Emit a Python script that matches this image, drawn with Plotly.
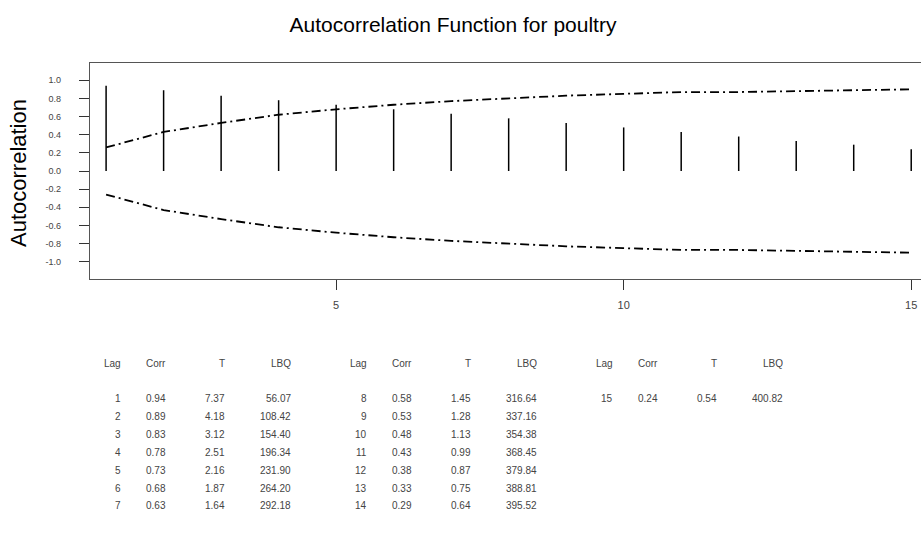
import plotly.graph_objects as go

# ACF results for the poultry series
lags = list(range(1, 16))
corr = [0.94, 0.89, 0.83, 0.78, 0.73, 0.68, 0.63, 0.58, 0.53, 0.48, 0.43, 0.38, 0.33, 0.29, 0.24]
tstat = [7.37, 4.18, 3.12, 2.51, 2.16, 1.87, 1.64, 1.45, 1.28, 1.13, 0.99, 0.87, 0.75, 0.64, 0.54]
lbq = [56.07, 108.42, 154.40, 196.34, 231.90, 264.20, 292.18, 316.64, 337.16, 354.38,
       368.45, 379.84, 388.81, 395.52, 400.82]
# 2*SE significance limits per lag
limit = [0.26, 0.43, 0.53, 0.62, 0.68, 0.73, 0.77, 0.80, 0.83, 0.85, 0.87, 0.87, 0.88, 0.89, 0.90]

ytick_vals = [1.0, 0.8, 0.6, 0.4, 0.2, 0.0, -0.2, -0.4, -0.6, -0.8, -1.0]
ytick_text = ["1.0", "0.8", "0.6", "0.4", "0.2", "0.0", "-0.2", "-0.4", "-0.6", "-0.8", "-1.0"]
xtick_vals = [5, 10, 15]

W, H = 921, 555
ML, MR, MT, MB = 90, 0, 63, 276
PW, PH = W - ML - MR, H - MT - MB

fig = go.Figure()

# vertical spikes for each lag
sx, sy = [], []
for k, r in zip(lags, corr):
    sx += [k, k, None]
    sy += [0, r, None]
fig.add_trace(go.Scatter(x=sx, y=sy, mode="lines",
                         line=dict(color="black", width=1.5),
                         hoverinfo="skip", showlegend=False))

dash = "9px,4px,2px,4px"
fig.add_trace(go.Scatter(x=lags, y=limit, mode="lines",
                         line=dict(color="black", width=1.8, dash=dash),
                         showlegend=False))
fig.add_trace(go.Scatter(x=lags, y=[-v for v in limit], mode="lines",
                         line=dict(color="black", width=1.8, dash=dash),
                         showlegend=False))

ann = []

def px_x(p):
    return (p - ML) / PW

def px_y(p):
    return (H - MB - p) / PH

# y-axis title
ann.append(dict(text="Autocorrelation", xref="paper", yref="paper",
                x=px_x(18), y=px_y(173), textangle=-90, showarrow=False,
                xanchor="center", yanchor="middle",
                font=dict(size=22, color="black", family="Liberation Sans, Arial")))

# statistics table, three blocks of seven lags
col_right = [123, 168, 227, 293]
block_step = 246
header_y = 363
row_y0, row_step = 398, 18
tfont = dict(size=10, color="#444", family="Liberation Sans, Arial")
headers = ["Lag", "Corr", "T", "LBQ"]
for b in range(3):
    for c, h in enumerate(headers):
        ann.append(dict(text=h, xref="paper", yref="paper",
                        x=px_x(col_right[c] + b * block_step), y=px_y(header_y),
                        xanchor="right", yanchor="middle", showarrow=False, font=tfont))
for i, k in enumerate(lags):
    b, row = divmod(i, 7)
    vals = [f"{k}", f"{corr[i]:.2f}", f"{tstat[i]:.2f}", f"{lbq[i]:.2f}"]
    for c, v in enumerate(vals):
        ann.append(dict(text=v, xref="paper", yref="paper",
                        x=px_x(col_right[c] + b * block_step),
                        y=px_y(row_y0 + row * row_step),
                        xanchor="right", yanchor="middle", showarrow=False, font=tfont))

fig.update_layout(
    width=W, height=H,
    margin=dict(l=ML, r=MR, t=MT, b=MB),
    paper_bgcolor="white", plot_bgcolor="white",
    title=dict(text="Autocorrelation Function for poultry",
               xref="container", yref="container", x=453 / W, y=1 - 25 / H,
               xanchor="center", yanchor="middle",
               font=dict(size=21, color="black", family="Liberation Sans, Arial")),
    annotations=ann,
    font=dict(family="Liberation Sans, Arial"),
)

fig.update_xaxes(range=[0.72, 15.17], tickvals=xtick_vals, ticks="outside", ticklen=10,
                 tickcolor="#333", showline=True, linecolor="#555", linewidth=1.3,
                 mirror=True, showgrid=False, zeroline=False,
                 tickfont=dict(size=11, color="#444"), ticklabelstandoff=6)
fig.update_yaxes(range=[-1.19, 1.19], tickvals=ytick_vals, ticktext=ytick_text,
                 ticks="outside", ticklen=10, tickcolor="#333",
                 showline=True, linecolor="#555", linewidth=1.3, mirror=False,
                 showgrid=False, zeroline=False,
                 tickfont=dict(size=9, color="#444"), ticklabelstandoff=16)

fig.write_html("out.html")
